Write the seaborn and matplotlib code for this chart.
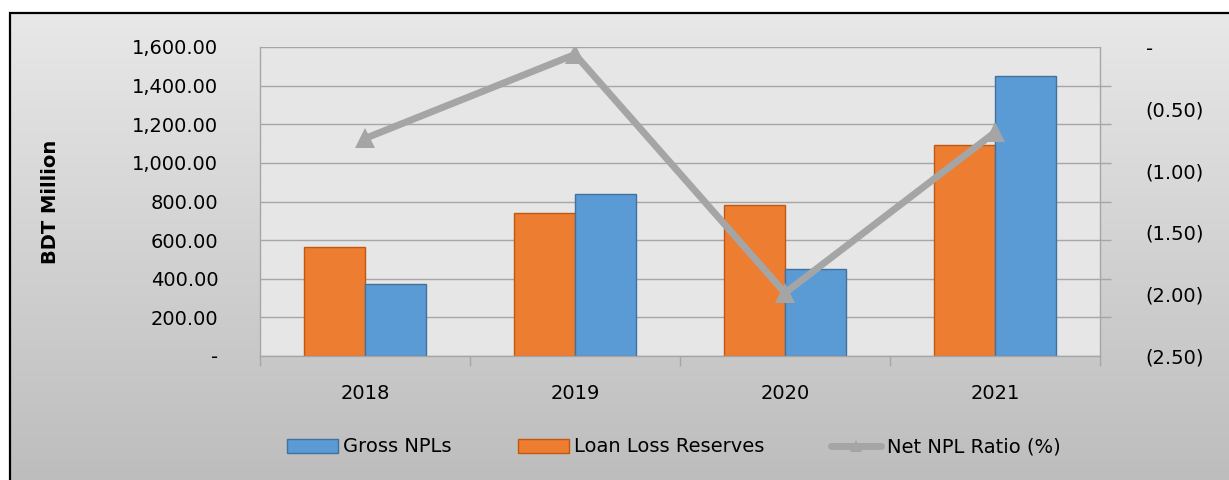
import numpy as np
import pandas as pd
import seaborn as sns
import matplotlib.pyplot as plt
from matplotlib.patches import Patch, Rectangle
from matplotlib.lines import Line2D
from matplotlib.ticker import FuncFormatter, MultipleLocator, FixedLocator

## Data
years = ["2018", "2019", "2020", "2021"]
loan_loss_reserves = [565, 739, 782, 1093]     # BDT Million
gross_npls = [373, 837, 450, 1452]             # BDT Million
net_npl_ratio = [-0.74, -0.06, -1.99, -0.69]   # %

bars = pd.DataFrame({
    "Year": years * 2,
    "Value": loan_loss_reserves + gross_npls,
    "Series": ["Loan Loss Reserves"] * len(years) + ["Gross NPLs"] * len(years),
})
ratio = pd.DataFrame({"pos": np.arange(len(years)), "ratio": net_npl_ratio})

ORANGE, BLUE, GREY = "#ed7d31", "#5b9bd5", "#a5a5a5"
GRID = "#a6a6a6"

sns.set_theme(style="white")
plt.rcParams['font.family'] = ['DejaVu Sans']
plt.rcParams['text.color'] = 'black'
plt.rcParams['axes.labelcolor'] = 'black'
plt.rcParams['xtick.color'] = 'black'
plt.rcParams['ytick.color'] = 'black'
FS = 14

fig = plt.figure(figsize=(12.29, 4.8), dpi=100)
fig.patch.set_facecolor("white")

# gradient background inside the chart frame (light at top, darker at bottom)
x0, y1 = 10 / 1229, 1 - 13 / 480
bg = fig.add_axes([0, 0, 1, 1], zorder=-10)
bg.set_facecolor("white")
grad = np.linspace(0, 1, 256).reshape(-1, 1)
bg.imshow(grad, aspect="auto", cmap=sns.light_palette("#bdbdbd", as_cmap=True),
          extent=[x0, 1, 0, y1], origin="upper", vmin=-0.2, vmax=1.0)
bg.set_xlim(0, 1)
bg.set_ylim(0, 1)
bg.axis("off")
bg.add_patch(Rectangle((x0, -0.1), 1.2, y1 + 0.1, fill=False, edgecolor="black",
                       linewidth=1.6, clip_on=False))

ax = fig.add_axes([260 / 1229, 1 - 356 / 480, 840 / 1229, 309 / 480])
ax.set_facecolor("#e6e6e6")

sns.barplot(data=bars, x="Year", y="Value", hue="Series",
            hue_order=["Loan Loss Reserves", "Gross NPLs"],
            palette=[ORANGE, BLUE], saturation=1, width=0.58, gap=0, ax=ax, legend=False,
            linewidth=1)
for patch in ax.patches:
    fc = patch.get_facecolor()
    patch.set_edgecolor("#c0590f" if fc[0] > 0.8 else "#41719c")

ax.set_ylim(0, 1600)
ax.yaxis.set_major_locator(MultipleLocator(200))
ax.yaxis.set_major_formatter(FuncFormatter(lambda v, p: "-" if v == 0 else f"{v:,.2f}"))
ax.grid(axis="y", color=GRID, linewidth=1)
ax.set_axisbelow(True)
ax.set_xlim(-0.5, len(years) - 0.5)
ax.set_xlabel(None)
ax.set_ylabel("BDT Million", fontsize=FS, fontweight="bold", labelpad=52)
ax.tick_params(axis="y", length=0, pad=30, labelsize=FS)
ax.tick_params(axis="x", which="major", length=0, pad=20, labelsize=FS)
ax.xaxis.set_minor_locator(FixedLocator(np.arange(len(years) + 1) - 0.5))
ax.tick_params(axis="x", which="minor", bottom=True, length=7, color=GRID, width=1, direction="out")
for s in ["top", "right"]:
    ax.spines[s].set_visible(False)
for s in ["left", "bottom"]:
    ax.spines[s].set_color(GRID)
    ax.spines[s].set_linewidth(1)

# secondary axis: net NPL ratio
ax2 = ax.twinx()
sns.lineplot(data=ratio, x="pos", y="ratio", ax=ax2, color=GREY, linewidth=5,
             marker="^", markersize=15, markeredgewidth=0, legend=False)
ax2.set_ylim(-2.5, 0)
ax2.yaxis.set_major_locator(MultipleLocator(0.5))
ax2.yaxis.set_major_formatter(FuncFormatter(lambda v, p: "-" if abs(v) < 1e-9 else f"({abs(v):.2f})"))
ax2.yaxis.set_minor_locator(FixedLocator(np.linspace(-2.5, 0, 9)))
ax2.tick_params(axis="y", which="major", length=0, pad=33, labelsize=FS)
ax2.tick_params(axis="y", which="minor", right=True, length=8, color=GRID, width=1, direction="out")
ax2.set_ylabel(None)
ax2.set_xlabel(None)
for s in ["top", "left", "bottom"]:
    ax2.spines[s].set_visible(False)
ax2.spines["right"].set_color(GRID)
ax2.spines["right"].set_linewidth(1)
ax2.set_xlim(-0.5, len(years) - 0.5)

# legend
handles = [
    Patch(facecolor=BLUE, edgecolor="#41719c", label="Gross NPLs"),
    Patch(facecolor=ORANGE, edgecolor="#c0590f", label="Loan Loss Reserves"),
    Line2D([], [], color=GREY, linewidth=5, marker="^", markersize=9, markeredgewidth=0,
           label="Net NPL Ratio (%)"),
]
fig.legend(handles=handles, loc="center", bbox_to_anchor=(674 / 1229, 1 - 447 / 480),
           ncol=3, frameon=False, fontsize=FS, handlelength=2.6, handleheight=0.7,
           handletextpad=0.3, columnspacing=3.4)

plt.savefig("out.png", dpi=100)
plt.close()
